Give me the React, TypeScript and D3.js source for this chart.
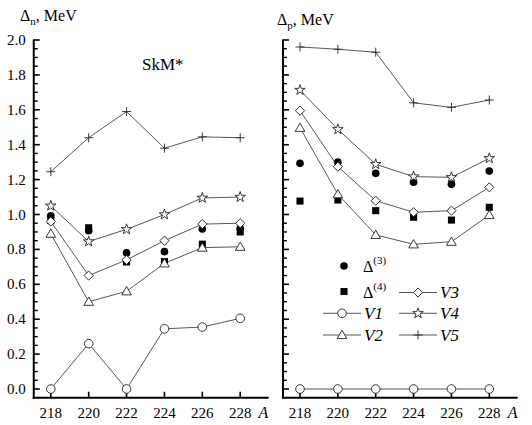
import React from "react";
import * as d3 from "d3";

const massNumbers = [218, 220, 222, 224, 226, 228];
const yTickValues = [0, 0.2, 0.4, 0.6, 0.8, 1.0, 1.2, 1.4, 1.6, 1.8, 2.0];

// Neutron gaps (left panel)
const nDelta3 = [0.993, 0.907, 0.78, 0.787, 0.917, 0.92];
const nDelta4 = [0.965, 0.924, 0.728, 0.73, 0.83, 0.9];
const nV1 = [0.0, 0.26, 0.0, 0.345, 0.355, 0.405];
const nV2 = [0.89, 0.5, 0.56, 0.72, 0.81, 0.815];
const nV3 = [0.96, 0.65, 0.74, 0.85, 0.945, 0.95];
const nV4 = [1.05, 0.845, 0.915, 1.0, 1.095, 1.1];
const nV5 = [1.245, 1.44, 1.59, 1.38, 1.445, 1.44];

// Proton gaps (right panel)
const pDelta3 = [1.293, 1.3, 1.236, 1.185, 1.173, 1.249];
const pDelta4 = [1.077, 1.083, 1.022, 0.984, 0.968, 1.041];
const pV1 = [0.0, 0.0, 0.0, 0.0, 0.0, 0.0];
const pV2 = [1.497, 1.116, 0.883, 0.829, 0.844, 0.997];
const pV3 = [1.595, 1.274, 1.079, 1.013, 1.022, 1.156];
const pV4 = [1.713, 1.488, 1.288, 1.217, 1.213, 1.322];
const pV5 = [1.96, 1.947, 1.93, 1.64, 1.614, 1.656];

const FONT = '"Liberation Serif", "Tinos", "Noto Serif", "DejaVu Serif", "FreeSerif", "Nimbus Roman", Times, serif';
const fs = (size: number, italic = false): React.CSSProperties => ({
  fontFamily: FONT,
  fontSize: size,
  fontStyle: italic ? "italic" : "normal",
});
const LINE = "#444";
const MARK = "#222";

type Kind = "circle" | "triangle" | "diamond" | "star" | "plus" | "dot" | "square";

function markerPath(kind: Kind): string {
  switch (kind) {
    case "circle":
      return d3.symbol(d3.symbolCircle, 58)() as string;
    case "dot":
      return d3.symbol(d3.symbolCircle, 46)() as string;
    case "square":
      return d3.symbol(d3.symbolSquare, 50)() as string;
    case "triangle":
      return d3.symbol(d3.symbolTriangle, 40)() as string;
    case "diamond":
      return d3.symbol(d3.symbolSquare, 42)() as string;
    case "star":
      return d3.symbol(d3.symbolStar, 34)() as string;
    case "plus":
      return "M-4.5,0H4.5M0,-4.5V4.5";
  }
}

function Marker({ kind, x, y }: { kind: Kind; x: number; y: number }) {
  const d = markerPath(kind);
  const filled = kind === "dot" || kind === "square";
  const rot = kind === "diamond" ? ` rotate(45)` : "";
  const dy = kind === "triangle" ? 0.8 : 0;
  return (
    <path
      d={d}
      transform={`translate(${x},${y + dy})${rot}`}
      fill={kind === "plus" ? "none" : filled ? "#000" : "#fff"}
      stroke={filled ? "none" : MARK}
      strokeWidth={0.9}
    />
  );
}

interface Series {
  values: number[];
  kind: Kind;
}

function Panel({
  xr,
  yScale,
  scatter,
  lines,
  showYLabels,
}: {
  xr: [number, number];
  yScale: d3.ScaleLinear<number, number>;
  scatter: Series[];
  lines: Series[];
  showYLabels: boolean;
}) {
  const x = d3.scaleLinear().domain([218, 228]).range(xr);
  const x0 = x(217.1);
  const x1 = x(229.5);
  const yBottom = yScale(-0.05);
  const yTop = yScale(2.0);
  const minorTicks = d3.range(0, 41).map((i) => i * 0.05).filter((v) => Math.round(v * 100) % 20 !== 0);
  const line = d3
    .line<number>()
    .x((_, i) => x(massNumbers[i]))
    .y((v) => yScale(v));
  return (
    <g>
      {lines.map((s, i) => (
        <path key={"l" + i} d={line(s.values) as string} fill="none" stroke={LINE} strokeWidth={0.9} />
      ))}
      <line x1={x0} x2={x0} y1={yTop - 0.5} y2={yBottom + 1} stroke="#000" strokeWidth={2} />
      <line x1={x0 - 1} x2={x1} y1={yBottom} y2={yBottom} stroke="#000" strokeWidth={2} />
      {yTickValues.map((v) => (
        <line key={"yt" + v} x1={x0} x2={x0 + 6} y1={yScale(v)} y2={yScale(v)} stroke="#000" strokeWidth={1.6} />
      ))}
      {minorTicks.map((v) => (
        <line key={"ym" + v} x1={x0} x2={x0 + 4} y1={yScale(v)} y2={yScale(v)} stroke="#000" strokeWidth={1.4} />
      ))}
      {massNumbers.map((m) => (
        <line key={"xt" + m} x1={x(m)} x2={x(m)} y1={yBottom} y2={yBottom - 6} stroke="#000" strokeWidth={1.6} />
      ))}
      {showYLabels &&
        yTickValues.map((v) => (
          <text key={"yl" + v} x={x0 - 8} y={yScale(v) + 5} textAnchor="end" style={fs(15)}>
            {v.toFixed(1)}
          </text>
        ))}
      {massNumbers.map((m) => (
        <text key={"xl" + m} x={x(m)} y={418} textAnchor="middle" style={fs(15)}>
          {m}
        </text>
      ))}
      <text x={x1 - 10} y={418} style={fs(16, true)}>
        A
      </text>
      {scatter.map((s, i) =>
        s.values.map((v, j) => <Marker key={`s${i}-${j}`} kind={s.kind} x={x(massNumbers[j])} y={yScale(v)} />)
      )}
      {lines.map((s, i) =>
        s.values.map((v, j) => <Marker key={`m${i}-${j}`} kind={s.kind} x={x(massNumbers[j])} y={yScale(v)} />)
      )}
    </g>
  );
}

function LegendLine({ x, y, kind, label }: { x: number; y: number; kind: Kind; label: string }) {
  return (
    <g>
      <line x1={x} x2={x + 38} y1={y} y2={y} stroke={LINE} strokeWidth={0.9} />
      <Marker kind={kind} x={x + 19} y={y} />
      <text x={x + 41} y={y + 5.5} style={fs(17, true)}>
        {label}
      </text>
    </g>
  );
}

function LegendDelta({ x, y, kind, sup }: { x: number; y: number; kind: Kind; sup: string }) {
  return (
    <g>
      <Marker kind={kind} x={x} y={y} />
      <text x={x + 19} y={y + 6} style={fs(16)}>
        Δ
        <tspan dy={-8} style={fs(11)}>
          {sup}
        </tspan>
      </text>
    </g>
  );
}

export default function App() {
  const yScale = d3.scaleLinear().domain([0, 2]).range([389, 40]);
  const dotsN: Series[] = [
    { values: nDelta4, kind: "square" },
    { values: nDelta3, kind: "dot" },
  ];
  const linesN: Series[] = [
    { values: nV1, kind: "circle" },
    { values: nV2, kind: "triangle" },
    { values: nV3, kind: "diamond" },
    { values: nV4, kind: "star" },
    { values: nV5, kind: "plus" },
  ];
  const dotsP: Series[] = [
    { values: pDelta4, kind: "square" },
    { values: pDelta3, kind: "dot" },
  ];
  const linesP: Series[] = [
    { values: pV1, kind: "circle" },
    { values: pV2, kind: "triangle" },
    { values: pV3, kind: "diamond" },
    { values: pV4, kind: "star" },
    { values: pV5, kind: "plus" },
  ];
  return (
    <svg width={532} height={425} style={{ position: "absolute", left: 0, top: 0, background: "#fff" }}>
      <rect width={532} height={425} fill="#fff" />
      <text x={20} y={21} style={fs(16)}>
        Δ
        <tspan dy={4} style={fs(11)}>
          n
        </tspan>
        <tspan dy={-4}>, MeV</tspan>
      </text>
      <text x={277} y={25} style={fs(16)}>
        Δ
        <tspan dy={4} style={fs(11)}>
          p
        </tspan>
        <tspan dy={-4}>, MeV</tspan>
      </text>
      <text x={142} y={70} style={fs(17)}>
        SkM*
      </text>
      <Panel xr={[50.8, 240.2]} yScale={yScale} scatter={dotsN} lines={linesN} showYLabels={true} />
      <Panel xr={[300, 489.3]} yScale={yScale} scatter={dotsP} lines={linesP} showYLabels={false} />
      <LegendDelta x={344} y={266} kind="dot" sup="(3)" />
      <LegendDelta x={344} y={291.5} kind="square" sup="(4)" />
      <LegendLine x={323} y={313.3} kind="circle" label="V1" />
      <LegendLine x={323} y={335} kind="triangle" label="V2" />
      <LegendLine x={399} y={292.5} kind="diamond" label="V3" />
      <LegendLine x={399} y={313.3} kind="star" label="V4" />
      <LegendLine x={399} y={335} kind="plus" label="V5" />
    </svg>
  );
}
